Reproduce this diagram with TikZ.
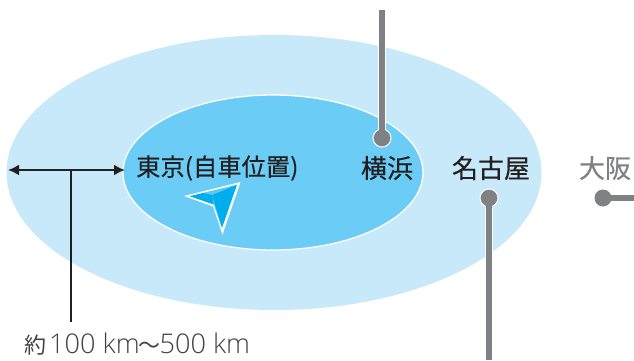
\documentclass[tikz,border=0pt]{standalone}
\usepackage{fontspec}
\setmainfont{Noto Sans CJK JP}
\newfontfamily\cityfont{Noto Sans CJK JP}[FakeBold=0.35]
\newfontfamily\latinfont{Open Sans Light}
\usetikzlibrary{arrows.meta}
\definecolor{outerblue}{HTML}{C7E9FA}
\definecolor{innerblue}{HTML}{6BCDF6}
\definecolor{arrowblue}{HTML}{00AEEF}
\definecolor{ink}{HTML}{231F20}
\definecolor{pin}{HTML}{808184}
\tikzset{
  city/.style={inner sep=0pt,text=ink,font=\cityfont\fontsize{24.3pt}{26pt}\selectfont},
  citybig/.style={city,font=\cityfont\fontsize{26pt}{26pt}\selectfont},
  pinline/.style={draw=pin,line width=6pt},
  pinhalo/.style={draw=white,line width=7.2pt},
  pindot/.style={circle,fill=pin,draw=white,line width=1pt,minimum size=18pt,inner sep=0pt},
  pindotplain/.style={circle,fill=pin,minimum size=17pt,inner sep=0pt},
  measure/.style={draw=ink,line width=2.8pt}
}
\newcommand{\lat}[1]{{\latinfont\fontsize{27.1pt}{28pt}\selectfont #1}}
\begin{document}
\begin{tikzpicture}[x=1pt,y=-1pt]
\useasboundingbox (0,0) rectangle (634,360);
\fill[outerblue] (274,172.5) ellipse [x radius=267.5,y radius=137.5];
\fill[innerblue,draw=white,line width=1.3pt] (273,172.5) ellipse [x radius=150,y radius=77.5];
% measure
\coordinate (mL) at (8,170);
\coordinate (mR) at (125,170);
\coordinate (mJ) at (71,170);
\coordinate (mB) at (71,322);
\draw[measure,{Latex[length=11pt,width=11pt]}-{Latex[length=11pt,width=11pt]}] (mL) -- (mR);
\draw[measure] (mJ) -- (mB);
% cities
\node[city,anchor=west] (tokyo) at (136,168) {東京(自車位置)};
\node[citybig,anchor=center] (yoko) at (387,168) {横浜};
\node[citybig,anchor=center] (nago) at (491,168) {名古屋};
\node[citybig,anchor=center,text=pin] (osaka) at (605,168) {大阪};
% pins
\coordinate (yTop) at (382,10);
\coordinate (nBot) at (489,360);
\coordinate (oEnd) at (634,198);
\node[pindot] (yDot) at (382,138) {};
\node[pindot] (nDot) at (489,198) {};
\node[pindotplain] (oDot) at (603,198) {};
\draw[pinhalo] (yTop) -- (yDot);
\draw[pinhalo] (nDot) -- (nBot);
\draw[pinline] (yTop) -- (yDot.center);
\draw[pinline] (nDot.center) -- (nBot);
\draw[pinline] (oDot.center) -- (oEnd);
% vehicle arrow
\fill[white] (184,196) -- (240.5,182) -- (222.5,234.5) -- (213,206.5) -- cycle;
\fill[arrowblue] (189.5,196.2) -- (237,184.7) -- (222,228) -- (213.8,204.5) -- cycle;
\fill[white,opacity=.35] (203,192.8) -- (237,184.7) -- (212,195) -- cycle;
\fill[white,opacity=.35] (212,195) -- (213.8,204.5) -- (222,228) -- cycle;
% range text
\node[inner sep=0pt,anchor=west,text=ink!85,font=\fontsize{22pt}{26pt}\selectfont] (range) at (24,344.5) {約\hspace{3pt}\lat{100 km}\hspace{-1pt}〜\hspace{-1pt}\lat{500 km}};
\end{tikzpicture}
\end{document}
